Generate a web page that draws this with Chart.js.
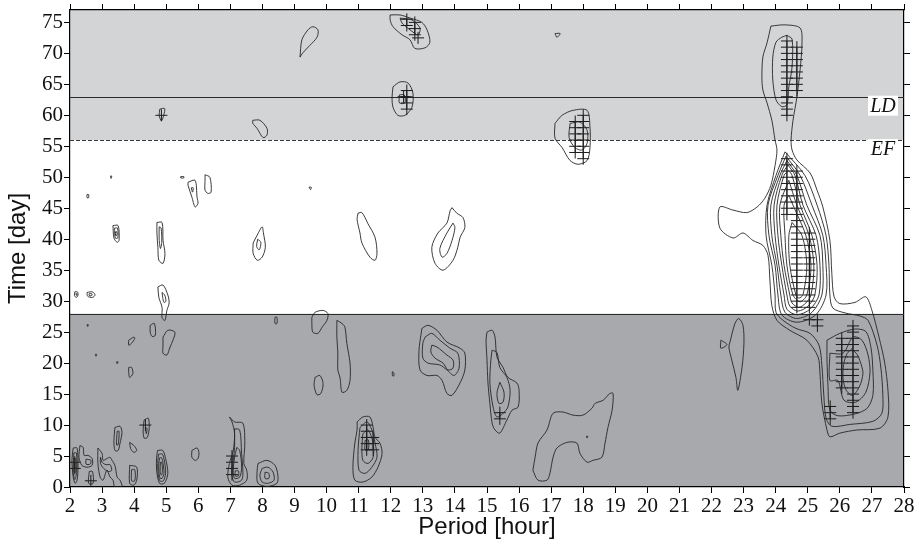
<!DOCTYPE html>
<html>
<head>
<meta charset="utf-8">
<script src="https://cdn.jsdelivr.net/npm/chart.js@4.4.1/dist/chart.umd.min.js"></script>
<style>
  html, body { margin: 0; padding: 0; background: #fff; }
  #wrap { width: 921px; height: 545px; position: relative; }
</style>
</head>
<body>
<div id="wrap"><canvas id="chart"></canvas></div>
<script>
// assi: periodo (ore) e tempo (giorni)
const xTicks = [2, 3, 4, 5, 6, 7, 8, 9, 10, 11, 12, 13, 14, 15, 16, 17, 18, 19, 20, 21, 22, 23, 24, 25, 26, 27, 28];
const yTicks = [0, 5, 10, 15, 20, 25, 30, 35, 40, 45, 50, 55, 60, 65, 70, 75];
const xRange = [2, 28];
const yRange = [0, 77];

// fasi dell'esperimento
const phaseEdges = [0, 28, 56, 77];
const phaseColors = ['#a7a9ac', '#ffffff', '#d3d4d6'];
const phaseLines = [63, 56, 28];
const phaseLabels = ['LD', 'EF'];
const phaseLabelAt = [63, 56];

// picco principale 24-27 h (contorni annidati)
const bigLobe = [
  [[23.85,74.4],[24.29,74.6],[24.76,74.1],[24.82,71.7],[24.76,67.3],[24.66,62.9],[24.54,59.2],[24.48,56.0],[24.51,54.4],[24.66,52.8],[25.07,50.7],[25.29,47.9],[25.47,45.2],[25.69,39.8],[25.75,34.5],[25.82,30.7],[26.0,29.6],[26.47,29.8],[26.81,30.7],[27.0,28.5],[27.22,24.2],[27.4,20.0],[27.5,15.6],[27.5,11.3],[27.25,9.5],[26.53,9.2],[26.0,8.7],[25.69,8.1],[25.6,9.2],[25.44,13.5],[25.38,18.4],[25.32,21.0],[24.97,23.7],[24.44,25.3],[24.04,26.9],[23.88,29.3],[23.82,33.4],[23.76,37.4],[23.6,39.0],[23.29,39.8],[22.98,41.0],[22.67,40.2],[22.26,41.8],[22.26,45.2],[22.67,44.7],[23.1,44.3],[23.42,45.2],[23.66,46.6],[23.85,48.7],[23.98,51.9],[24.04,54.4],[23.98,56.0],[23.88,59.2],[23.73,62.0],[23.6,64.1],[23.57,66.2],[23.6,69.4],[23.73,71.7]],
  [[24.35,72.9],[24.51,72.3],[24.51,67.8],[24.41,64.6],[24.35,61.7],[24.19,61.4],[24.01,62.5],[23.91,65.7],[23.91,69.4],[24.01,71.8],[24.19,72.6]],
  [[24.29,54.1],[24.91,50.3],[25.29,45.5],[25.57,40.6],[25.66,35.8],[25.69,31.0],[25.78,28.9],[26.16,28.1],[26.63,27.6],[26.88,26.9],[27.16,22.9],[27.28,19.2],[27.34,14.8],[27.31,11.9],[27.03,10.6],[26.31,10.1],[25.75,9.8],[25.57,11.1],[25.5,14.8],[25.44,19.6],[25.35,22.9],[25.07,24.8],[24.63,25.6],[24.23,26.9],[24.01,28.2],[23.98,31.0],[23.88,35.8],[23.7,40.6],[23.73,45.5],[24.01,50.3]],
  [[24.32,53.4],[24.76,50.3],[25.13,45.5],[25.47,40.6],[25.57,35.8],[25.57,31.0],[25.25,27.8],[24.66,26.6],[24.19,27.8],[24.07,31.0],[23.98,35.8],[23.79,40.6],[23.76,45.5],[24.07,50.3]],
  [[24.35,52.7],[24.66,50.3],[24.97,45.5],[25.38,40.6],[25.47,35.8],[25.44,31.0],[25.13,28.2],[24.66,27.2],[24.29,28.2],[24.16,31.0],[24.04,35.8],[23.88,40.6],[23.85,45.5],[24.13,50.3]],
  [[24.38,52.0],[24.6,50.3],[24.85,45.5],[25.26,40.6],[25.38,35.8],[25.35,31.0],[25.07,28.7],[24.66,27.8],[24.35,28.7],[24.26,31.0],[24.1,35.8],[23.98,40.6],[23.95,45.5],[24.19,50.3]],
  [[24.41,51.1],[24.51,50.3],[24.76,45.5],[25.13,40.6],[25.29,35.8],[25.22,31.0],[25.01,29.2],[24.69,28.4],[24.44,29.2],[24.35,31.0],[24.19,35.8],[24.07,40.6],[24.04,45.5],[24.26,50.3]],
  [[24.41,49.5],[24.66,45.5],[25.04,40.6],[25.19,35.8],[25.1,31.0],[24.94,29.7],[24.72,29.0],[24.51,29.7],[24.44,31.0],[24.26,35.8],[24.16,40.6],[24.13,45.5]],
  [[24.41,47.1],[24.54,45.5],[24.94,40.6],[25.1,35.8],[24.97,31.0],[24.76,29.9],[24.54,31.0],[24.35,35.8],[24.29,40.6],[24.26,45.5]],
  [[24.51,42.7],[24.82,40.6],[24.97,35.8],[24.85,31.0],[24.72,30.5],[24.63,31.0],[24.44,35.8],[24.41,40.6]]
];

// picco secondario ~26.4 h
const rightLobe = [
  [[25.6,23.7],[26.0,24.8],[26.47,25.5],[26.81,25.1],[26.97,22.5],[27.03,18.8],[27.03,14.8],[26.85,12.7],[26.47,11.8],[25.94,11.5],[25.69,12.4],[25.63,16.4],[25.6,20.5]],
  [[25.69,21.6],[26.1,21.6],[26.41,24.2],[26.69,23.7],[26.88,21.3],[26.94,18.5],[26.81,15.3],[26.5,13.7],[26.13,14.0],[25.94,17.2],[25.69,17.2]],
  [[26.37,22.3],[26.55,21.3],[26.68,19.5],[26.72,18.3],[26.62,16.3],[26.4,14.8],[26.2,15.6],[26.1,17.5],[26.12,19.8],[26.22,21.5]]
];

// contorni minori sopra i 28 giorni
const upperSmall = [
  [[9.17,69.4],[9.23,72.2],[9.42,73.8],[9.57,74.3],[9.73,73.8],[9.7,72.6],[9.48,71.3],[9.26,70.1]],
  [[11.98,76.2],[12.29,76.2],[12.6,75.7],[12.97,75.0],[13.13,73.8],[13.22,71.8],[13.07,70.9],[12.75,70.8],[12.6,72.2],[12.35,73.0],[12.07,74.3],[11.98,75.4]],
  [[12.29,75.7],[12.66,75.4],[12.91,74.1],[12.85,73.0],[12.6,73.8],[12.35,74.9]],
  [[12.07,64.6],[12.29,65.4],[12.54,65.2],[12.69,63.6],[12.66,61.3],[12.44,60.0],[12.22,60.0],[12.07,61.3],[12.04,62.9]],
  [[12.27,63.3],[12.42,63.3],[12.44,62.0],[12.27,62.0]],
  [[4.8,61.0],[4.95,61.1],[4.92,60.0],[4.85,59.1],[4.78,60.0]],
  [[7.7,59.2],[7.92,59.2],[8.14,57.9],[8.14,56.8],[8.02,56.4],[7.83,57.9],[7.7,58.7]],
  [[17.12,58.7],[17.34,60.0],[17.68,60.8],[18.12,60.8],[18.21,58.1],[18.21,54.8],[18.12,52.7],[17.84,52.1],[17.59,52.7],[17.34,54.8],[17.12,56.3]],
  [[17.59,58.7],[17.9,58.9],[18.12,57.6],[18.12,55.5],[17.96,54.4],[17.74,54.8],[17.56,56.4]],
  [[17.12,73.2],[17.28,73.2],[17.18,72.6]],
  [[5.68,49.2],[5.9,49.5],[5.96,46.8],[5.99,45.8],[5.9,45.2],[5.8,46.8],[5.68,48.7]],
  [[5.78,48.3],[5.84,48.3],[5.82,47.6]],
  [[6.21,50.4],[6.36,50.0],[6.4,47.6],[6.3,47.4],[6.21,47.9],[6.21,49.5]],
  [[3.34,42.2],[3.5,42.2],[3.53,39.8],[3.47,39.5],[3.37,40.2]],
  [[3.39,41.8],[3.48,41.8],[3.49,40.2],[3.41,40.2]],
  [[3.42,41.2],[3.46,41.2],[3.46,40.6],[3.42,40.6]],
  [[4.71,42.7],[4.87,42.7],[4.9,39.8],[4.96,37.7],[4.9,36.1],[4.77,36.6],[4.74,38.7],[4.71,41.0]],
  [[4.78,42.0],[4.84,41.8],[4.86,39.5],[4.82,38.5],[4.78,40.0]],
  [[7.71,39.4],[7.87,41.0],[7.99,42.0],[8.03,41.0],[8.09,38.7],[7.99,37.1],[7.84,36.6],[7.71,37.7]],
  [[7.85,40.0],[7.95,39.5],[7.9,38.3],[7.82,38.8]],
  [[10.98,44.2],[11.1,44.3],[11.29,42.5],[11.51,40.3],[11.57,37.7],[11.51,36.6],[11.35,37.1],[11.1,39.4],[11.04,41.0],[10.95,43.2]],
  [[13.91,45.1],[14.06,44.2],[14.25,43.5],[14.31,41.9],[14.16,40.3],[14.09,38.7],[13.94,36.6],[13.63,35.0],[13.38,36.1],[13.28,38.7],[13.47,41.0],[13.75,42.6],[13.85,44.6]],
  [[13.94,42.6],[14.0,41.9],[13.91,39.8],[13.75,37.7],[13.6,37.1],[13.53,38.5],[13.75,41.0]],
  [[2.53,47.2],[2.58,47.2],[2.58,46.7],[2.53,46.7]],
  [[3.26,50.2],[3.3,50.2],[3.28,49.8]],
  [[5.45,50.1],[5.55,50.1],[5.55,49.9],[5.45,49.9]],
  [[9.45,48.4],[9.52,48.4],[9.5,48.0]],
  [[2.15,31.5],[2.23,31.5],[2.25,31.0],[2.2,30.6],[2.14,30.9]],
  [[2.18,31.2],[2.22,31.2],[2.21,30.9]],
  [[2.53,31.4],[2.7,31.5],[2.78,31.0],[2.7,30.6],[2.55,30.8]],
  [[2.6,31.2],[2.68,31.2],[2.68,30.9],[2.6,30.9]],
  [[4.74,32.3],[4.9,32.6],[5.05,31.0],[5.09,29.7],[5.02,28.5],[4.96,26.9],[4.87,27.3],[4.87,29.0],[4.77,30.6]],
  [[4.87,31.4],[4.95,31.0],[4.99,30.0],[4.93,29.8],[4.89,30.6]],
  [[9.54,27.4],[9.64,28.2],[9.89,28.5],[10.04,28.0],[10.01,26.9],[9.86,25.8],[9.73,24.8],[9.57,25.0],[9.54,26.4]]
];

// contorni minori sotto i 28 giorni
const lowerSmall = [
  [[8.39,27.4],[8.45,27.4],[8.45,26.4],[8.39,26.4]],
  [[10.32,26.9],[10.48,26.4],[10.57,25.8],[10.63,23.2],[10.73,20.0],[10.73,17.2],[10.63,15.6],[10.48,15.3],[10.42,17.6],[10.35,18.9],[10.35,21.6],[10.32,24.2]],
  [[9.64,17.7],[9.79,18.0],[9.89,16.7],[9.82,15.1],[9.7,14.9],[9.61,16.4]],
  [[12.05,18.6],[12.1,18.4],[12.09,17.9],[12.05,18.0]],
  [[12.97,25.6],[13.16,26.1],[13.44,25.3],[13.75,23.4],[14.16,22.4],[14.31,21.6],[14.31,18.9],[14.16,16.8],[13.91,14.8],[13.75,15.1],[13.6,17.2],[13.44,18.0],[13.13,18.0],[12.91,18.9],[12.88,22.1],[12.94,24.5]],
  [[13.07,24.2],[13.28,24.8],[13.53,23.7],[13.85,22.4],[14.09,21.6],[14.13,19.2],[13.97,18.0],[13.75,18.9],[13.53,19.7],[13.16,20.0],[13.0,20.8],[13.0,23.2]],
  [[13.28,22.9],[13.44,22.6],[13.75,21.3],[13.94,20.5],[13.94,19.2],[13.78,18.9],[13.63,20.0],[13.38,20.8],[13.25,21.8]],
  [[15.0,25.0],[15.16,25.3],[15.25,24.2],[15.31,21.0],[15.5,19.3],[15.65,17.7],[15.93,16.8],[16.0,15.6],[15.97,12.9],[15.78,12.4],[15.62,10.8],[15.4,8.7],[15.25,9.2],[15.16,10.3],[15.09,13.5],[15.03,16.8],[15.0,20.5],[14.97,23.7]],
  [[15.16,22.1],[15.31,21.7],[15.4,19.3],[15.62,17.7],[15.72,15.6],[15.65,12.9],[15.5,11.9],[15.31,11.3],[15.19,12.9],[15.09,16.8],[15.12,20.5]],
  [[15.4,16.9],[15.53,15.3],[15.5,13.7],[15.37,13.5],[15.31,15.1]],
  [[16.43,2.7],[16.5,4.8],[16.59,7.1],[16.87,9.2],[17.06,11.9],[17.37,12.1],[17.68,11.6],[17.99,11.6],[18.27,12.7],[18.37,13.5],[18.62,14.0],[18.83,15.1],[18.93,15.1],[18.9,12.4],[18.77,9.6],[18.68,7.1],[18.58,4.8],[18.3,4.3],[18.12,4.0],[17.9,5.4],[17.8,7.1],[17.49,7.2],[17.18,6.3],[17.06,4.8],[16.96,2.2],[16.87,1.1],[16.59,1.1]],
  [[18.1,8.2],[18.14,8.2],[18.12,7.9]],
  [[10.95,10.5],[11.13,11.3],[11.35,11.3],[11.45,9.6],[11.51,8.0],[11.66,7.1],[11.73,5.4],[11.6,3.2],[11.41,1.6],[11.13,0.8],[10.88,1.1],[10.82,3.2],[10.88,7.1],[10.95,9.2]],
  [[11.04,9.6],[11.26,10.5],[11.41,9.2],[11.51,7.1],[11.57,4.8],[11.41,3.2],[11.2,2.2],[11.01,2.7],[10.98,5.9],[11.01,8.0]],
  [[11.13,8.6],[11.29,9.2],[11.45,7.1],[11.45,4.8],[11.29,3.8],[11.13,4.3],[11.1,6.4]],
  [[11.2,7.5],[11.3,7.6],[11.3,6.0],[11.2,6.0]],
  [[22.57,23.3],[22.73,26.4],[22.85,27.2],[22.98,26.1],[23.01,23.2],[22.95,19.3],[22.82,15.6],[22.76,17.7],[22.63,20.5],[22.54,22.6]],
  [[22.29,23.7],[22.48,23.0],[22.29,22.4]],
  [[4.9,24.2],[5.05,25.3],[5.27,25.0],[5.21,23.7],[5.12,22.6],[5.02,21.3],[4.9,21.6],[4.9,22.9]],
  [[4.5,26.1],[4.63,26.4],[4.66,24.5],[4.56,24.3],[4.5,25.0]],
  [[3.83,23.7],[3.99,24.2],[4.02,24.0],[3.92,23.2],[3.83,22.9]],
  [[3.83,19.3],[3.92,19.3],[3.96,18.3],[3.86,17.7],[3.83,18.5]],
  [[2.53,26.2],[2.57,26.2],[2.55,25.9]],
  [[2.79,21.4],[2.83,21.4],[2.81,21.1]],
  [[3.45,20.2],[3.5,20.2],[3.47,19.9]]
];

// angolo in basso a sinistra (periodi brevi)
const cornerSmall = [
  [[2.1,6.3],[2.22,6.3],[2.25,3.2],[2.22,1.1],[2.16,0.6],[2.1,1.6],[2.06,4.3]],
  [[2.12,5.5],[2.2,5.5],[2.21,2.5],[2.15,1.2],[2.1,2.5]],
  [[2.13,4.6],[2.18,4.6],[2.18,2.4],[2.13,2.4]],
  [[2.31,6.7],[2.41,6.4],[2.44,5.1],[2.56,5.1],[2.69,4.6],[2.69,3.5],[2.53,3.2],[2.37,3.5],[2.28,4.8]],
  [[2.5,4.5],[2.65,4.3],[2.63,3.7],[2.5,3.7]],
  [[2.6,2.5],[2.7,2.5],[2.72,0.6],[2.58,0.6]],
  [[2.87,6.3],[3.0,5.4],[3.03,4.3],[3.15,4.6],[3.25,4.8],[3.31,4.3],[3.4,3.5],[3.47,1.6],[3.56,1.1],[3.62,0.0],[3.4,0.0],[3.34,1.1],[3.25,1.6],[3.15,2.7],[3.03,1.1],[2.94,1.6],[2.87,3.8]],
  [[2.95,4.8],[3.0,4.0],[3.12,3.6],[3.25,3.6],[3.3,2.7],[3.2,2.5],[3.05,3.0],[2.95,3.8]],
  [[3.4,9.6],[3.56,9.8],[3.62,8.8],[3.56,7.1],[3.5,5.9],[3.4,5.9],[3.37,7.5]],
  [[3.47,9.0],[3.53,9.0],[3.5,6.8],[3.45,6.8]],
  [[3.86,7.2],[3.99,6.7],[4.08,5.9],[3.99,5.6],[3.89,6.2]],
  [[3.86,3.5],[4.08,3.2],[4.08,1.1],[3.99,0.3],[3.86,0.6]],
  [[3.92,2.8],[4.02,2.8],[4.02,1.0],[3.92,1.0]],
  [[4.31,10.8],[4.44,11.1],[4.47,9.6],[4.41,8.0],[4.31,7.9],[4.28,9.2]],
  [[4.35,9.5],[4.4,9.5],[4.38,8.6]],
  [[4.73,5.9],[4.89,5.9],[4.98,4.6],[5.05,2.2],[4.94,0.6],[4.79,0.6],[4.7,2.7],[4.7,4.8]],
  [[4.76,5.3],[4.88,5.3],[4.95,4.0],[4.98,2.2],[4.91,1.0],[4.8,1.0],[4.74,2.5],[4.74,4.3]],
  [[4.79,4.7],[4.86,4.7],[4.91,3.5],[4.93,2.2],[4.87,1.4],[4.81,1.4],[4.77,2.5],[4.77,3.8]],
  [[4.82,4.0],[4.86,4.0],[4.88,2.5],[4.85,1.9],[4.81,2.5]],
  [[5.8,5.9],[5.96,6.3],[6.02,5.6],[5.99,4.6],[5.9,4.3],[5.8,4.8]],
  [[7.86,3.8],[8.14,4.3],[8.39,3.5],[8.48,1.9],[8.45,0.6],[8.14,0.1],[7.86,0.6],[7.83,2.4]],
  [[7.99,3.0],[8.17,3.2],[8.33,2.4],[8.36,1.1],[8.17,0.6],[7.99,0.8],[7.92,1.9]],
  [[8.08,2.4],[8.2,2.2],[8.2,1.4],[8.08,1.4]],
  [[6.97,11.3],[7.13,10.5],[7.39,10.3],[7.45,7.1],[7.42,3.8],[7.51,2.7],[7.51,1.1],[7.29,0.3],[7.05,0.3],[6.92,1.6],[6.97,3.8],[7.09,5.9],[7.13,8.7],[7.05,10.5]],
  [[7.13,9.4],[7.29,9.2],[7.35,5.4],[7.39,2.4],[7.35,1.1],[7.13,0.8],[7.05,1.9],[7.09,4.3],[7.13,6.4]],
  [[7.2,6.4],[7.29,5.9],[7.35,3.2],[7.29,1.6],[7.13,1.4],[7.09,2.7],[7.13,4.8]],
  [[7.15,2.6],[7.25,2.6],[7.25,1.8],[7.15,1.8]]
];

// punti significativi (+): [periodo, [giorni]]
const sigColumns = [
  [24.35, [60, 61, 62, 63, 64, 65, 66, 67, 68, 69, 70, 71, 72]],
  [24.66, [64, 65, 66, 67, 68, 69, 70, 71]],
  [24.35, [44, 45, 46, 47, 48, 49, 50, 51, 52, 53]],
  [24.66, [29, 30, 31, 32, 33, 34, 35, 36, 37, 38, 39, 40, 41, 42, 43, 44, 45, 46, 47, 48, 49, 50, 51]],
  [25.05, [29, 30, 31, 32, 33, 34, 35, 36, 37, 38, 39, 40, 41]],
  [25.05, [27]],
  [25.3, [27, 26]],
  [26.06, [16, 17, 18, 19, 20, 21, 22, 23, 24]],
  [26.41, [12, 13, 14, 15, 16, 17, 18, 19, 20, 21, 22, 23, 24, 25, 26]],
  [25.7, [11, 12, 13]],
  [12.5, [75.5, 74.5]],
  [12.75, [75, 74, 73]],
  [12.85, [72.5]],
  [12.5, [64, 63, 62, 61]],
  [12.4, [63]],
  [17.75, [54, 55, 56, 57, 58, 59]],
  [18.0, [53, 54, 55, 56, 57, 58, 59, 60]],
  [11.25, [6, 7, 8, 9, 10]],
  [11.45, [6, 7, 8]],
  [15.4, [12, 11]],
  [7.05, [5, 4, 3, 2]],
  [4.35, [10]],
  [4.85, [60]],
  [2.15, [4, 3]],
  [2.65, [1]]
];

const lineColor = '#262626';

function closedLoop(pts) {
  return pts.concat([pts[0]]).map(p => ({ x: p[0], y: p[1] }));
}

const contourSets = [bigLobe, rightLobe, upperSmall, lowerSmall, cornerSmall];
const datasets = [];
contourSets.forEach(set => {
  set.forEach(c => {
    datasets.push({
      data: closedLoop(c),
      showLine: true,
      borderColor: lineColor,
      borderWidth: 0.9,
      pointRadius: 0,
      tension: 0.3,
      fill: false
    });
  });
});

const sigPoints = [];
sigColumns.forEach(col => col[1].forEach(d => sigPoints.push({ x: col[0], y: d })));
datasets.push({
  data: sigPoints,
  showLine: false,
  pointStyle: 'cross',
  pointRadius: 6,
  borderColor: '#1a1a1a',
  borderWidth: 1,
  backgroundColor: '#1a1a1a'
});

// sfondo delle fasi, linee e etichette LD / EF
const phasePlugin = {
  id: 'phases',
  beforeDraw(chart) {
    const { ctx, chartArea: a, scales: { y } } = chart;
    ctx.save();
    for (let i = 0; i < phaseColors.length; i++) {
      const top = y.getPixelForValue(phaseEdges[i + 1]);
      const bot = y.getPixelForValue(phaseEdges[i]);
      ctx.fillStyle = phaseColors[i];
      ctx.fillRect(a.left, top, a.right - a.left, bot - top);
    }
    ctx.restore();
  },
  beforeDatasetsDraw(chart) {
    const { ctx, chartArea: a, scales: { y } } = chart;
    ctx.save();
    phaseLines.forEach(v => {
      const py = Math.round(y.getPixelForValue(v)) + 0.5;
      ctx.beginPath();
      ctx.strokeStyle = v === 56 ? '#3a3a3a' : '#2a2a2a';
      ctx.lineWidth = 1;
      ctx.setLineDash(v === 56 ? [4, 2] : []);
      ctx.moveTo(a.left, py);
      ctx.lineTo(a.right, py);
      ctx.stroke();
    });
    ctx.restore();
  },
  afterDatasetsDraw(chart) {
    const { ctx, chartArea: a, scales: { y } } = chart;
    ctx.save();
    ctx.font = 'italic 20px "Liberation Serif", "Times New Roman", serif';
    ctx.textAlign = 'center';
    ctx.textBaseline = 'middle';
    phaseLabels.forEach((t, i) => {
      const py = y.getPixelForValue(phaseLabelAt[i]);
      const w = 30, h = 20;
      const x0 = a.right - 36;
      ctx.fillStyle = '#ffffff';
      ctx.fillRect(x0, py - 1, w, h);
      ctx.fillStyle = '#111';
      ctx.fillText(t, x0 + w / 2, py + h / 2);
    });
    ctx.restore();
  }
};

const tickFont = { family: '"Liberation Serif", "Times New Roman", serif', size: 21 };
const titleFont = { family: '"Liberation Sans", Arial, sans-serif', size: 24 };
const gridOpts = { drawOnChartArea: false, drawTicks: true, tickLength: 6, color: '#000', tickColor: '#000' };
const borderOpts = { display: true, color: '#000', width: 1.2 };

function fixVertical(w) {
  return s => { s.width = w; s.paddingTop = 0; s.paddingBottom = 0; };
}
function fixHorizontal(h) {
  return s => { s.height = h; s.paddingLeft = 0; s.paddingRight = 0; };
}

new Chart(document.getElementById('chart'), {
  type: 'scatter',
  data: { datasets },
  options: {
    responsive: true,
    maintainAspectRatio: false,
    animation: false,
    events: [],
    layout: { padding: 0 },
    plugins: { legend: { display: false }, tooltip: { enabled: false } },
    scales: {
      x: {
        type: 'linear', position: 'bottom', min: xRange[0], max: xRange[1],
        afterBuildTicks: s => { s.ticks = xTicks.map(v => ({ value: v })); },
        afterFit: fixHorizontal(58),
        grid: gridOpts, border: borderOpts,
        ticks: { autoSkip: false, maxRotation: 0, color: '#111', font: tickFont, padding: 1 },
        title: { display: true, text: 'Period [hour]', color: '#111', font: titleFont, padding: { top: 0, bottom: 3 } }
      },
      xTop: {
        type: 'linear', position: 'top', min: xRange[0], max: xRange[1],
        afterBuildTicks: s => { s.ticks = xTicks.map(v => ({ value: v })); },
        afterFit: fixHorizontal(10),
        grid: gridOpts, border: borderOpts,
        ticks: { display: false }
      },
      y: {
        type: 'linear', position: 'left', min: yRange[0], max: yRange[1],
        afterBuildTicks: s => { s.ticks = yTicks.map(v => ({ value: v })); },
        afterFit: fixVertical(70),
        grid: gridOpts, border: borderOpts,
        ticks: { color: '#111', font: tickFont, padding: 1 },
        title: { display: true, text: 'Time [day]', color: '#111', font: titleFont, padding: { top: 4, bottom: 0 } }
      },
      yRight: {
        type: 'linear', position: 'right', min: yRange[0], max: yRange[1],
        afterBuildTicks: s => { s.ticks = yTicks.map(v => ({ value: v })); },
        afterFit: fixVertical(17),
        grid: gridOpts, border: borderOpts,
        ticks: { display: false }
      }
    }
  },
  plugins: [phasePlugin]
});
</script>
</body>
</html>
